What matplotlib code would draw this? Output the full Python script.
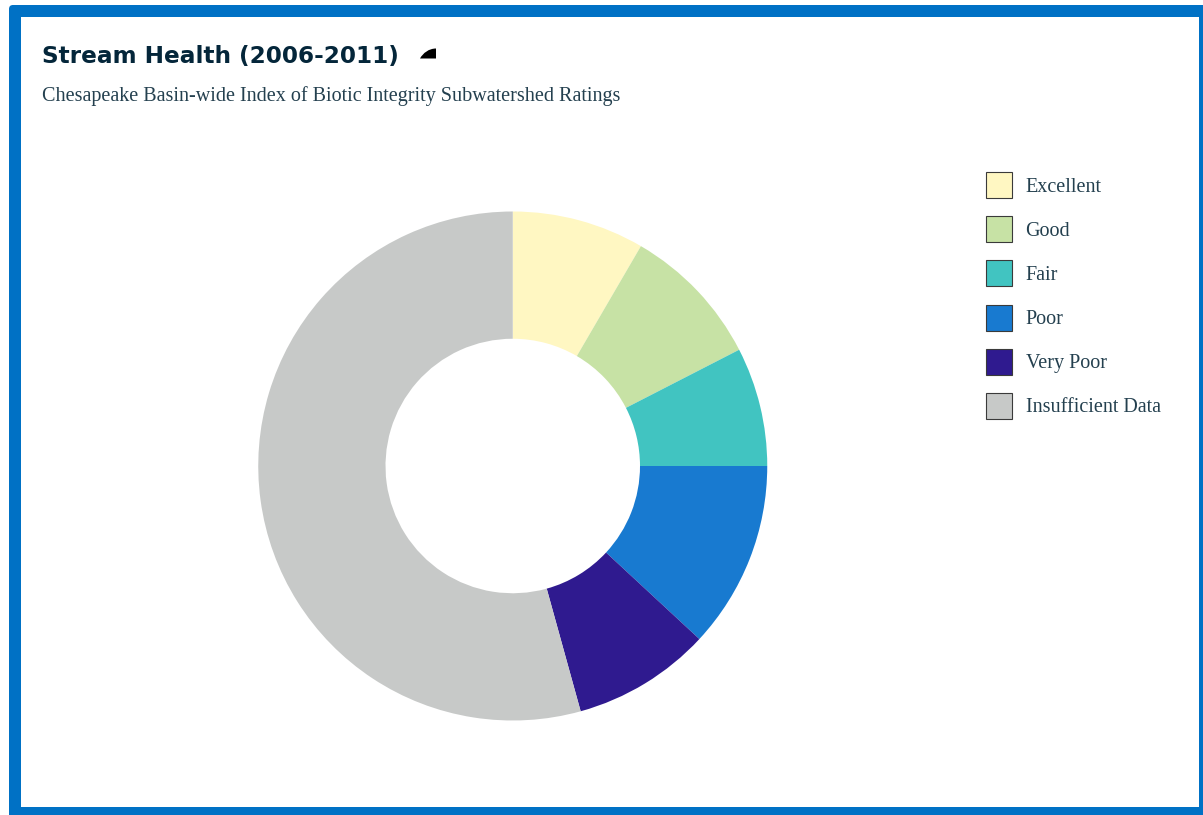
import matplotlib
matplotlib.use("Agg")
import matplotlib.pyplot as plt
from matplotlib.patches import FancyBboxPatch, PathPatch, Rectangle
from matplotlib.path import Path

W, H = 1203, 815
DPI = 100

BLUE = "#0071c5"
NAVY = "#04263a"
TEXT = "#24404f"

# share of subwatersheds per rating, percent
categories = ["Excellent", "Good", "Fair", "Poor", "Very Poor", "Insufficient Data"]
shares = [8.4, 9.05, 7.55, 11.9, 8.8, 54.3]
colors = ["#fff7c2", "#c7e2a5", "#41c4c1", "#187ad0", "#2f1a8f", "#c7c9c8"]

title = "Stream Health (2006-2011)"
subtitle = "Chesapeake Basin-wide Index of Biotic Integrity Subwatershed Ratings"

SERIF = ["Liberation Serif", "DejaVu Serif"]

fig = plt.figure(figsize=(W / DPI, H / DPI), dpi=DPI, facecolor="white")

# pixel-space layer for the frame, headings and legend
ax = fig.add_axes([0, 0, 1, 1])
ax.set_xlim(0, W)
ax.set_ylim(H, 0)
ax.axis("off")

# panel frame: blue card with a white inset
ax.add_patch(FancyBboxPatch((9, 5), W + 20, H + 20, boxstyle="round,pad=0,rounding_size=4",
                            facecolor=BLUE, edgecolor="none"))
ax.add_patch(Rectangle((21, 16.5), 1178, 790.5, facecolor="white", edgecolor="none"))

ax.text(42, 56.5, title, color=NAVY, fontsize=16.7, fontweight="bold",
        family="DejaVu Sans", va="center", ha="left")
ax.text(42, 96, subtitle, color=TEXT, fontsize=14.5, family=SERIF, va="center", ha="left")

# little black mark beside the title
mark = Path(
    [(420, 58.5), (423, 53), (429, 48.5), (436, 48.5), (436, 58.5), (420, 58.5)],
    [Path.MOVETO, Path.CURVE4, Path.CURVE4, Path.CURVE4, Path.LINETO, Path.CLOSEPOLY],
)
ax.add_patch(PathPatch(mark, facecolor="black", edgecolor="none"))

# legend swatches
for i, (name, color) in enumerate(zip(categories, colors)):
    y = 172 + i * 44.2
    ax.add_patch(Rectangle((986, y), 26, 26, facecolor=color, edgecolor="#3a3a3a", linewidth=0.8))
    ax.text(1025.5, y + 15, name, color=TEXT, fontsize=14.5, family=SERIF, va="center", ha="left")

# donut, clockwise from twelve o'clock
cx, cy, r = 512.75, 466, 254.5
pie_ax = fig.add_axes([(cx - r) / W, 1 - (cy + r) / H, 2 * r / W, 2 * r / H])
pie_ax.pie(shares, colors=colors, startangle=90, counterclock=False, radius=1,
           wedgeprops={"width": 0.5, "linewidth": 0})
pie_ax.set_xlim(-1, 1)
pie_ax.set_ylim(-1, 1)

fig.savefig("out.png", dpi=DPI, facecolor="white")
